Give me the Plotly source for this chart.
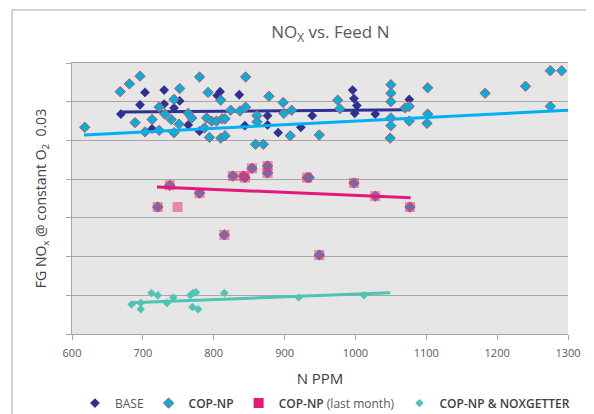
import plotly.graph_objects as go

# N PPM (x) vs FG NOx @ constant O2 (y)
base_x = [669, 703, 696, 730, 730, 744, 752, 713, 764, 780, 809, 805, 836, 844,
          876, 876, 891, 923, 939, 996, 998, 1002, 999, 1028, 1076]
base_y = [0.0284, 0.0312, 0.0296, 0.0315, 0.0297, 0.0292, 0.0301, 0.0265, 0.0270,
          0.0262, 0.0313, 0.0308, 0.0309, 0.0269, 0.0282, 0.0270, 0.0260, 0.0267,
          0.0282, 0.0315, 0.0304, 0.0295, 0.0285, 0.0284, 0.0303]

cop_x = [618, 668, 681, 696, 689, 703, 713, 723, 723, 731, 740, 744, 752, 744, 751,
         764, 769, 780, 792, 787, 790, 794, 797, 804, 812, 810, 816, 810, 816, 824,
         837, 845, 845, 861, 861, 859, 870, 878, 898, 899, 908, 910, 949, 975, 978,
         1050, 1050, 1050, 1050, 1050, 1049, 1070, 1076, 1076, 1102, 1102, 1101,
         1183, 1240, 1275, 1291, 1275]
cop_y = [0.0267, 0.0313, 0.0323, 0.0333, 0.0273, 0.0261, 0.0277, 0.0293, 0.0263,
         0.0284, 0.0277, 0.0303, 0.0317, 0.0260, 0.0271, 0.0285, 0.0279, 0.0332,
         0.0312, 0.0266, 0.0279, 0.0254, 0.0275, 0.0275, 0.0278, 0.0302, 0.0278,
         0.0253, 0.0256, 0.0289, 0.0288, 0.0332, 0.0293, 0.0282, 0.0274, 0.0245,
         0.0245, 0.0307, 0.0299, 0.0285, 0.0256, 0.0289, 0.0257, 0.0302, 0.0291,
         0.0322, 0.0311, 0.0300, 0.0279, 0.0269, 0.0253, 0.0292, 0.0294, 0.0275,
         0.0318, 0.0284, 0.0272, 0.0311, 0.0320, 0.0340, 0.0340, 0.0294]

# COP-NP points that sit under the last-month squares
under_x = [721, 738, 780, 815, 827, 842, 844, 854, 876, 876, 932, 935, 949, 998, 1028, 1077]
under_y = [0.0164, 0.0192, 0.0182, 0.0128, 0.0204, 0.0204, 0.0202, 0.0214, 0.0217,
           0.0208, 0.0202, 0.0202, 0.0102, 0.0195, 0.0178, 0.0164]

last_x = [721, 749, 738, 780, 815, 827, 842, 844, 854, 876, 876, 932, 949, 998, 1028, 1077]
last_y = [0.0164, 0.0164, 0.0192, 0.0182, 0.0128, 0.0204, 0.0204, 0.0202, 0.0214,
          0.0217, 0.0208, 0.0202, 0.0102, 0.0195, 0.0178, 0.0164]

nox_x = [684, 697, 697, 712, 721, 734, 743, 767, 771, 775, 770, 778, 815, 920, 1012]
nox_y = [0.0038, 0.0040, 0.0032, 0.0053, 0.0050, 0.0040, 0.0047, 0.0050, 0.0053,
         0.0054, 0.0035, 0.0032, 0.0053, 0.0047, 0.0050]

# linear trendlines (end points)
base_tx, base_ty = [669, 1077], [0.02867, 0.02897]
cop_tx, cop_ty = [617, 1300], [0.02570, 0.02889]
last_tx, last_ty = [720, 1078], [0.01899, 0.01760]
nox_tx, nox_ty = [683, 1049], [0.00404, 0.00533]

NAVY = '#2E3192'
CYAN = '#00B0DC'
PINK = '#E5177A'
TEAL = '#4FC4B4'
FONT = 'Open Sans'

fig = go.Figure()
fig.add_trace(go.Scatter(x=base_x, y=base_y, mode='markers', name='BASE', legendrank=1,
                         marker=dict(symbol='diamond', size=7.5, color=NAVY)))
fig.add_trace(go.Scatter(x=base_tx, y=base_ty, mode='lines', showlegend=False,
                         line=dict(color=NAVY, width=3)))
fig.add_trace(go.Scatter(x=cop_x, y=cop_y, mode='markers', legendrank=2,
                         name='<span style="font-weight:600;fill:#404040">COP-NP</span>',
                         marker=dict(symbol='diamond', size=8, color=CYAN,
                                     line=dict(color='#D0505A', width=1))))
fig.add_trace(go.Scatter(x=cop_tx, y=cop_ty, mode='lines', showlegend=False,
                         line=dict(color='#00B0F0', width=3)))
fig.add_trace(go.Scatter(x=under_x, y=under_y, mode='markers', showlegend=False,
                         marker=dict(symbol='diamond', size=8, color=CYAN,
                                     line=dict(color='#D0505A', width=1))))
fig.add_trace(go.Scatter(x=last_x, y=last_y, mode='markers', showlegend=False,
                         marker=dict(symbol='square', size=10, color='rgba(229,40,115,0.5)')))
fig.add_trace(go.Scatter(x=[None], y=[None], mode='markers', legendrank=3,
                         name='<span style="font-weight:600;fill:#404040">COP-NP</span> (last month)',
                         marker=dict(symbol='square', size=10, color=PINK)))
fig.add_trace(go.Scatter(x=last_tx, y=last_ty, mode='lines', showlegend=False,
                         line=dict(color=PINK, width=3)))
fig.add_trace(go.Scatter(x=nox_x, y=nox_y, mode='markers', legendrank=4,
                         name='<span style="font-weight:600;fill:#404040">COP-NP &amp; NOXGETTER</span>',
                         marker=dict(symbol='diamond', size=6.5, color=TEAL)))
fig.add_trace(go.Scatter(x=nox_tx, y=nox_ty, mode='lines', showlegend=False,
                         line=dict(color=TEAL, width=3)))

# outer chart frame (cropped at right and bottom)
fig.add_shape(type='line', xref='paper', yref='paper', x0=-0.121, x1=-0.121, y0=-0.4, y1=1.1956,
              line=dict(color='#A6A6A6', width=1))
fig.add_shape(type='line', xref='paper', yref='paper', x0=-0.121, x1=1.2, y0=1.1956, y1=1.1956,
              line=dict(color='#A6A6A6', width=1))

# page body has an 8px margin, so the figure is 8px smaller than the window
fig.update_layout(
    width=586, height=406,
    margin=dict(l=64, r=26, t=55, b=80, autoexpand=False),
    paper_bgcolor='white', plot_bgcolor='#E6E6E6',
    font=dict(family=FONT, color='#595959'),
    title=dict(text='NO<sub>X</sub> vs. Feed N', x=0.55, xanchor='center', y=0.94, yanchor='middle',
               font=dict(size=17, color='#595959')),
    showlegend=True,
    legend=dict(orientation='h', x=0.51, xanchor='center', y=-0.255, yanchor='middle',
                font=dict(size=12, color='#595959'), bgcolor='rgba(0,0,0,0)',
                itemclick=False, traceorder='normal', itemwidth=30),
)
fig.update_xaxes(range=[600, 1300], dtick=100, showgrid=False, zeroline=False,
                 showline=True, linecolor='#A6A6A6', linewidth=1, mirror=True,
                 ticks='outside', ticklen=5, tickcolor='#A6A6A6', automargin=False,
                 ticklabelstandoff=4,
                 tickfont=dict(size=11, color='#595959'),
                 title=dict(text='N PPM', standoff=14,
                            font=dict(size=15, color='#404040')))
fig.update_yaxes(range=[0, 0.035], dtick=0.005, showgrid=True, gridcolor='#A6A6A6', gridwidth=1,
                 zeroline=False, showline=True, linecolor='#A6A6A6', linewidth=1,
                 ticks='outside', ticklen=5, tickcolor='#A6A6A6', showticklabels=False,
                 automargin=False,
                 title=dict(text='FG NO<sub>x</sub> @ constant O<sub>2</sub>&nbsp;&nbsp;0.03', standoff=16,
                            font=dict(size=14, color='#404040')))

fig.write_html("out.html")
